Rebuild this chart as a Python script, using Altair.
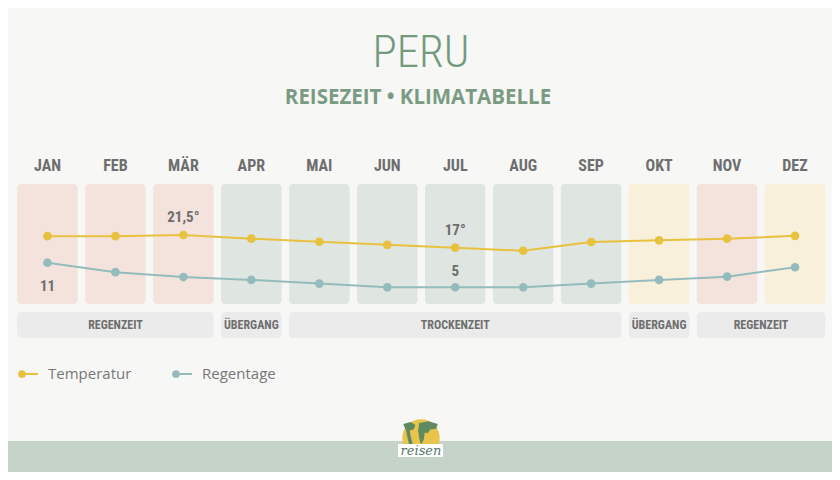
import altair as alt
import pandas as pd

# ---------------- data ----------------
months = ["JAN", "FEB", "MÄR", "APR", "MAI", "JUN", "JUL", "AUG", "SEP", "OKT", "NOV", "DEZ"]
temperatur = [21.1, 21.1, 21.5, 20.2, 19.1, 18.0, 17.0, 15.9, 19.0, 19.6, 20.2, 21.2]
regentage = [11, 8.7, 7.5, 6.8, 5.9, 5, 5, 5, 5.9, 6.8, 7.6, 9.9]
month_class = ["regen", "regen", "regen", "trocken", "trocken", "trocken",
               "trocken", "trocken", "trocken", "uebergang", "regen", "uebergang"]
temp_labels = ["", "", "21,5°", "", "", "", "17°", "", "", "", "", ""]
rain_labels_below = ["11", "", "", "", "", "", "", "", "", "", "", ""]
rain_labels_above = ["", "", "", "", "", "", "5", "", "", "", "", ""]

seasons = ["REGENZEIT", "ÜBERGANG", "TROCKENZEIT", "ÜBERGANG", "REGENZEIT"]
season_start = [0, 3, 4, 9, 10]
season_end = [2, 3, 8, 9, 11]

class_names = ["regen", "trocken", "uebergang"]
class_colors = ["#f4e3dc", "#dfe5e0", "#f8f0da"]

TEMP_COLOR = "#e8c13f"
RAIN_COLOR = "#95bcbd"
TEXT_GRAY = "#6e6e6e"
GREEN = "#739a7c"
NARROW = "Liberation Sans Narrow, Roboto Condensed, DejaVu Sans Condensed, sans-serif"

df = pd.DataFrame({
    "idx": list(range(12)),
    "month": months,
    "temp": temperatur,
    "rain": regentage,
    "cls": month_class,
    "tlab": temp_labels,
    "rlab_b": rain_labels_below,
    "rlab_a": rain_labels_above,
})
sdf = pd.DataFrame({"season": seasons, "s": season_start, "e": season_end})
one = pd.DataFrame({"a": [0]})

HW = 0.445
xs = alt.Scale(domain=[-0.5, 11.5], range=[5.5, 821], nice=False, zero=False)
ys_t = alt.Scale(domain=[15, 22], range=[245.3, 225.6], nice=False, zero=False)
ys_r = alt.Scale(domain=[4, 12], range=[283.4, 250.6], nice=False, zero=False)

base = alt.Chart(df)

# month boxes
boxes = base.transform_calculate(lo=f"datum.idx - {HW}", hi=f"datum.idx + {HW}").mark_rect(
    cornerRadius=4
).encode(
    x=alt.X("lo:Q", scale=xs, axis=None),
    x2="hi:Q",
    y=alt.value(176),
    y2=alt.value(296),
    color=alt.Color("cls:N", scale=alt.Scale(domain=class_names, range=class_colors), legend=None),
)

month_text = base.mark_text(font=NARROW, fontSize=16, fontWeight="bold", color=TEXT_GRAY,
                            baseline="middle").encode(
    x=alt.X("idx:Q", scale=xs, axis=None),
    y=alt.value(158),
    text="month:N",
)

# season bands
season_rect = alt.Chart(sdf).transform_calculate(
    lo=f"datum.s - {HW}", hi=f"datum.e + {HW}"
).mark_rect(cornerRadius=4, color="#ebebeb").encode(
    x=alt.X("lo:Q", scale=xs, axis=None),
    x2="hi:Q",
    y=alt.value(304),
    y2=alt.value(330),
)
season_text = alt.Chart(sdf).transform_calculate(mid="(datum.s + datum.e) / 2").mark_text(
    font=NARROW, fontSize=12, fontWeight="bold", color=TEXT_GRAY, baseline="middle"
).encode(
    x=alt.X("mid:Q", scale=xs, axis=None),
    y=alt.value(317),
    text="season:N",
)

# temperature
t_line = base.mark_line(color=TEMP_COLOR, strokeWidth=2).encode(
    x=alt.X("idx:Q", scale=xs, axis=None),
    y=alt.Y("temp:Q", scale=ys_t, axis=None),
)
t_pts = base.mark_circle(color=TEMP_COLOR, size=75, opacity=1).encode(
    x=alt.X("idx:Q", scale=xs, axis=None),
    y=alt.Y("temp:Q", scale=ys_t, axis=None),
)
t_lab = base.transform_filter("datum.tlab != ''").mark_text(
    font=NARROW, fontSize=15, fontWeight="bold", color=TEXT_GRAY, dy=-18, baseline="middle"
).encode(
    x=alt.X("idx:Q", scale=xs, axis=None),
    y=alt.Y("temp:Q", scale=ys_t, axis=None),
    text="tlab:N",
)

# rain days
r_line = base.mark_line(color=RAIN_COLOR, strokeWidth=2).encode(
    x=alt.X("idx:Q", scale=xs, axis=None),
    y=alt.Y("rain:Q", scale=ys_r, axis=None),
)
r_pts = base.mark_circle(color=RAIN_COLOR, size=75, opacity=1).encode(
    x=alt.X("idx:Q", scale=xs, axis=None),
    y=alt.Y("rain:Q", scale=ys_r, axis=None),
)
r_lab_b = base.transform_filter("datum.rlab_b != ''").mark_text(
    font=NARROW, fontSize=15, fontWeight="bold", color=TEXT_GRAY, dy=23, baseline="middle"
).encode(
    x=alt.X("idx:Q", scale=xs, axis=None),
    y=alt.Y("rain:Q", scale=ys_r, axis=None),
    text="rlab_b:N",
)
r_lab_a = base.transform_filter("datum.rlab_a != ''").mark_text(
    font=NARROW, fontSize=15, fontWeight="bold", color=TEXT_GRAY, dy=-16, baseline="middle"
).encode(
    x=alt.X("idx:Q", scale=xs, axis=None),
    y=alt.Y("rain:Q", scale=ys_r, axis=None),
    text="rlab_a:N",
)

# titles
title = alt.Chart(one).mark_text(text="PERU", font=NARROW, fontSize=45, fontWeight=300,
                                 color=GREEN, baseline="alphabetic", align="center").encode(
    x=alt.value(413), y=alt.value(59))
subtitle = alt.Chart(one).mark_text(text="REISEZEIT • KLIMATABELLE", font="Open Sans",
                                    fontWeight="bold", fontSize=20.5, color="#7a9b82",
                                    baseline="alphabetic", align="center").encode(
    x=alt.value(410), y=alt.value(96))

# custom legend
leg = []
for (lx, name, col) in [(14, "Temperatur", TEMP_COLOR), (168, "Regentage", RAIN_COLOR)]:
    leg.append(alt.Chart(one).mark_rule(color=col, strokeWidth=2).encode(
        x=alt.value(lx), x2=alt.value(lx + 16), y=alt.value(366)))
    leg.append(alt.Chart(one).mark_circle(color=col, size=60, opacity=1).encode(
        x=alt.value(lx), y=alt.value(366)))
    leg.append(alt.Chart(one).mark_text(text=name, font="Open Sans", fontSize=15,
                                        color="#777777", align="left", baseline="middle").encode(
        x=alt.value(lx + 26), y=alt.value(366)))

# footer band and logo
band = alt.Chart(one).mark_rect(color="#c6d3c9").encode(
    x=alt.value(-10), x2=alt.value(834), y=alt.value(433), y2=alt.value(470))
logo_circle = alt.Chart(one).mark_circle(color="#e9c44c", size=1400, opacity=1).encode(
    x=alt.value(413), y=alt.value(430))
logo_map1 = alt.Chart(one).mark_point(
    shape="M-0.95,-0.75 L-0.55,-0.85 L-0.3,-0.7 L-0.4,-0.45 L-0.6,-0.4 L-0.55,-0.1 L-0.45,0.3 L-0.6,0.5 L-0.7,0.1 L-0.8,-0.4 Z",
    filled=True, color="#5f8a5f", size=1400, opacity=1).encode(
    x=alt.value(413), y=alt.value(430))
logo_map2 = alt.Chart(one).mark_point(
    shape="M-0.1,-0.8 L0.4,-0.9 L0.9,-0.75 L0.8,-0.5 L0.5,-0.45 L0.35,-0.25 L0.2,-0.3 L0.15,0.1 L0.0,0.35 L-0.1,0.0 L-0.15,-0.4 Z",
    filled=True, color="#5f8a5f", size=1400, opacity=1).encode(
    x=alt.value(413), y=alt.value(430))
logo_box = alt.Chart(one).mark_rect(color="#ffffff").encode(
    x=alt.value(390), x2=alt.value(435), y=alt.value(436), y2=alt.value(449))
logo_text = alt.Chart(one).mark_text(text="reisen", font="DejaVu Serif", fontStyle="italic",
                                     fontSize=13, color="#55776e", baseline="middle").encode(
    x=alt.value(413), y=alt.value(443))

chart = alt.layer(
    band, boxes, season_rect, season_text, month_text,
    t_line, t_pts, t_lab, r_line, r_pts, r_lab_b, r_lab_a,
    title, subtitle, *leg,
    logo_circle, logo_map1, logo_map2, logo_box, logo_text,
).resolve_scale(
    y="independent", color="independent"
).properties(
    width=824, height=464, background="#f7f7f6", padding=0,
    autosize=alt.AutoSizeParams(type="none"),
).configure_view(strokeWidth=0)

chart.save("out.html", embed_options={"renderer": "svg", "actions": False})
